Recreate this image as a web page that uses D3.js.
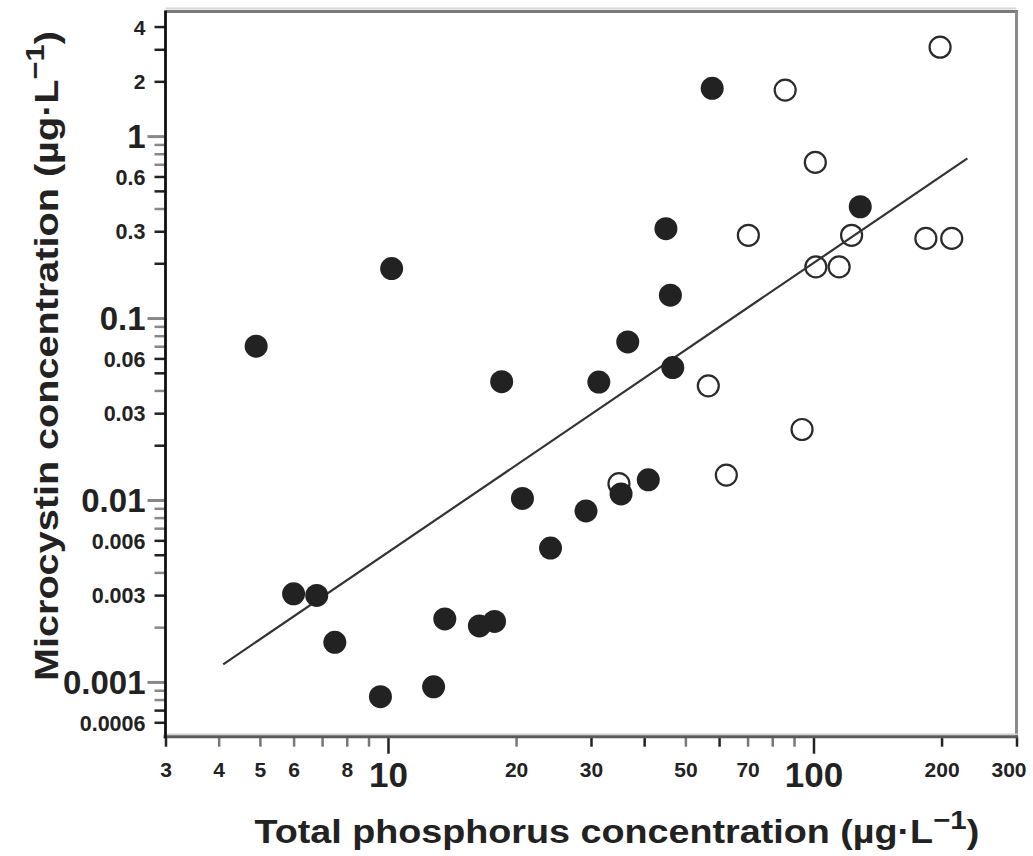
<!DOCTYPE html>
<html><head><meta charset="utf-8">
<script src="https://cdn.jsdelivr.net/npm/d3@7"></script>
<style>body{margin:0;background:#fff}</style>
</head><body>
<svg id="c" width="1033" height="856"></svg>
<script>
// ---- data ----
const filledTP = [4.9, 10.2, 18.5, 6.0, 6.8, 7.5, 9.6, 12.8, 13.6, 16.4, 17.8, 20.7, 24.1, 29.2, 35.3, 40.9, 45.0, 46.1, 36.6, 31.3, 46.7, 57.8, 128.8];
const filledMC = [0.070, 0.187, 0.0447, 0.00305, 0.00299, 0.00165, 0.00083, 0.00094, 0.00222, 0.00203, 0.00215, 0.0102, 0.00544, 0.0087, 0.0108, 0.0129, 0.310, 0.1335, 0.0739, 0.0445, 0.0534, 1.83, 0.409];
const openTP = [34.9, 56.6, 62.4, 85.8, 198.4, 101, 70.3, 122.9, 183.7, 211.3, 101.3, 114.9, 94.0];
const openMC = [0.0123, 0.0424, 0.0137, 1.79, 3.08, 0.717, 0.285, 0.285, 0.274, 0.274, 0.191, 0.191, 0.0244];
const fitTP = [4.1, 230];
const fitMC = [0.00125, 0.754];
const xTickLabels = [3, 4, 5, 6, 8, 10, 20, 30, 50, 70, 100, 200, 300];
const xBigLabels = [10, 100];
const yTickLabels = [4, 2, 1, 0.6, 0.3, 0.1, 0.06, 0.03, 0.01, 0.006, 0.003, 0.001, 0.0006];
const yBigLabels = [1, 0.1, 0.01, 0.001];
const xTitle = ["Total phosphorus concentration (\u00B5g\u00B7L", "\u22121", ")"];
const yTitle = ["Microcystin concentration  (\u00B5g\u00B7L", "\u22121", ")"];

// ---- layout ----
const L = 165.5, R = 1016.5, T = 11.5, B = 736.7;
const FONT = "'Liberation Sans', Arial, Helvetica, sans-serif";
const svg = d3.select("#c");
const x = d3.scaleLog().domain([3, 300]).range([L, R]);
const y = d3.scaleLog().domain([0.0005, 4.84]).range([B, T]);

const near = (a, b) => Math.abs(a - b) / b < 1e-6;
const inList = (v, arr) => arr.some(a => near(v, a));
function logTicks(lo, hi, incl) {
  const out = [];
  for (let k = Math.floor(Math.log10(lo)); k <= Math.ceil(Math.log10(hi)); k++)
    for (let m = 1; m <= 9; m++) {
      const v = +(m * Math.pow(10, k)).toPrecision(3);
      if (incl ? (v >= lo * 0.9999 && v <= hi * 1.0001) : (v > lo * 1.0001 && v < hi)) out.push(v);
    }
  return out;
}
const isPow10 = v => near(Math.pow(10, Math.round(Math.log10(v))), v);

// frame (top / right, grey)
svg.append("line").attr("x1", L).attr("x2", R + 1.5).attr("y1", T).attr("y2", T)
  .attr("stroke", "#7a7a7a").attr("stroke-width", 3);
svg.append("line").attr("x1", L).attr("x2", R).attr("y1", T - 3).attr("y2", T - 3)
  .attr("stroke", "#d8d8d8").attr("stroke-width", 2);
svg.append("line").attr("x1", R).attr("x2", R).attr("y1", T).attr("y2", B)
  .attr("stroke", "#8a8a8a").attr("stroke-width", 3);

// x axis
const xTicks = logTicks(3, 300, true);
const gx = svg.append("g").attr("transform", `translate(0,${B})`)
  .call(d3.axisBottom(x).tickValues(xTicks).tickSizeOuter(0)
    .tickFormat(d => inList(d, xTickLabels) ? String(d) : ""));
gx.select(".domain").remove();
gx.selectAll(".tick line")
  .attr("y2", d => inList(d, xBigLabels) ? 17 : 10)
  .attr("stroke", d => (inList(d, [3, 30, 200, 300, 10, 100, 40, 60])) ? "#222" : "#777")
  .attr("stroke-width", 2.5);
gx.selectAll(".tick text")
  .attr("font-family", FONT).attr("font-weight", "bold").attr("fill", "#222")
  .attr("dy", 0)
  .attr("dx", d => near(d, 300) ? -8 : 0)
  .attr("y", d => inList(d, xBigLabels) ? 50 : 40)
  .attr("font-size", d => inList(d, xBigLabels) ? 35 : 21);
svg.append("line").attr("x1", L - 2).attr("x2", R + 1.5).attr("y1", B - 2.5).attr("y2", B - 2.5)
  .attr("stroke", "#cfcfcf").attr("stroke-width", 1.5);
svg.append("line").attr("x1", L - 2).attr("x2", R + 1.5).attr("y1", B).attr("y2", B)
  .attr("stroke", "#5a5a5a").attr("stroke-width", 3);

// y axis
const yTicks = logTicks(0.0005, 4.84, false);
const gy = svg.append("g").attr("transform", `translate(${L},0)`)
  .call(d3.axisLeft(y).tickValues(yTicks).tickSizeOuter(0)
    .tickFormat(d => inList(d, yTickLabels) ? String(d) : ""));
gy.select(".domain").remove();
gy.selectAll(".tick line")
  .attr("x2", d => isPow10(d) ? -18 : -11)
  .attr("stroke", d => isPow10(d) ? "#888" : (inList(d, yTickLabels) || inList(d, [3, 0.5, 0.2, 0.05, 0.02, 0.005, 0.0007]) ? "#222" : "#888"))
  .attr("stroke-width", d => isPow10(d) ? 3 : 2.5);
gy.selectAll(".tick text")
  .attr("font-family", FONT).attr("font-weight", "bold").attr("fill", "#222")
  .attr("x", -20).attr("dy", "0.36em")
  .attr("font-size", d => inList(d, yBigLabels) ? 33 : (d >= 2 ? 21 : 21.5));
svg.append("line").attr("x1", L).attr("x2", L).attr("y1", T - 1).attr("y2", B + 1.5)
  .attr("stroke", "#111").attr("stroke-width", 2.8);

// open circles
svg.append("g").selectAll("circle").data(openTP.map((v, i) => [v, openMC[i]])).join("circle")
  .attr("cx", d => x(d[0])).attr("cy", d => y(d[1])).attr("r", 10.5)
  .attr("fill", "#fff").attr("stroke", "#2a2a2a").attr("stroke-width", 2.2);

// regression line
svg.append("path").datum(fitTP.map((v, i) => [v, fitMC[i]]))
  .attr("d", d3.line().x(d => x(d[0])).y(d => y(d[1])))
  .attr("stroke", "#333").attr("stroke-width", 2.2).attr("fill", "none");

// filled circles
svg.append("g").selectAll("circle").data(filledTP.map((v, i) => [v, filledMC[i]])).join("circle")
  .attr("cx", d => x(d[0])).attr("cy", d => y(d[1])).attr("r", 11.5)
  .attr("fill", "#222");

// titles
function title(parts, size) {
  const t = svg.append("text").attr("font-family", FONT).attr("font-weight", "bold")
    .attr("font-size", size).attr("fill", "#222").attr("text-anchor", "start");
  t.append("tspan").text(parts[0]);
  t.append("tspan").text(parts[1]).attr("dy", -0.42 * size).attr("font-size", size * 0.78);
  t.append("tspan").text(parts[2]).attr("dy", 0.42 * size);
  return t;
}
function place(t, cx, cy, targetW, rot) {
  const w = t.node().getComputedTextLength();
  const s = targetW / w;
  t.attr("transform", `translate(${cx},${cy}) rotate(${rot}) scale(${s},1) translate(${-w / 2},0)`);
}
place(title(xTitle, 33), 617, 843, 725, 0);
place(title(yTitle, 34), 58, 356, 650, -90);
</script>
</body></html>
